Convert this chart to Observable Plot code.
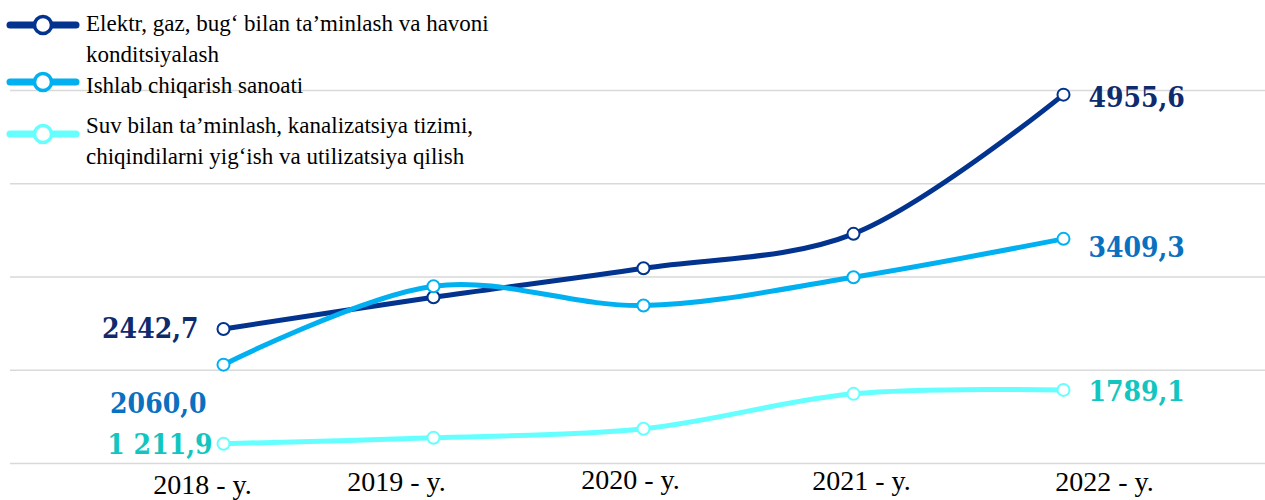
<!DOCTYPE html>
<html><head><meta charset="utf-8">
<script src="https://cdn.jsdelivr.net/npm/d3@7"></script>
<script src="https://cdn.jsdelivr.net/npm/@observablehq/plot@0.6"></script>
<style>
body{margin:0;background:#fff;}
#wrap{position:relative;width:1265px;height:500px;overflow:hidden;}
#wrap svg{position:absolute;left:0;top:0;}
</style></head><body><div id="wrap"></div>
<script>
// ---- data ----
const years = ["2018 - y.", "2019 - y.", "2020 - y.", "2021 - y.", "2022 - y."];
const seriesNames = [
  "Elektr, gaz, bug‘ bilan ta’minlash va havoni konditsiyalash",
  "Ishlab chiqarish sanoati",
  "Suv bilan ta’minlash, kanalizatsiya tizimi, chiqindilarni yig‘ish va utilizatsiya qilish"
];
const legendLines = [
  ["Elektr, gaz, bug‘ bilan ta’minlash va havoni", "konditsiyalash"],
  ["Ishlab chiqarish sanoati"],
  ["Suv bilan ta’minlash, kanalizatsiya tizimi,", "chiqindilarni yig‘ish va utilizatsiya qilish"]
];
const elektr = [2442.7, 2783, 3094, 3463, 4955.6];
const ishlab = [2060.0, 2901, 2694, 2998, 3409.3];
const suv    = [1211.9, 1276, 1372, 1747, 1789.1];
const startLabels = ["2442,7", "2060,0", "1 211,9"];
const endLabels   = ["4955,6", "3409,3", "1789,1"];
const yTicks = [1000, 2000, 3000, 4000, 5000];

// ---- styles ----
const lineColors  = ["#02338F", "#00B0F0", "#66FFFF"];
const labelColors = ["#0E2B6E", "#0A70C0", "#12C6BF"];
const startNudge = [{dx: -25, dy: 0}, {dx: -17, dy: 39}, {dx: -11, dy: 1}];
const endNudge   = [{dx: 25, dy: 3}, {dx: 25, dy: 9}, {dx: 25, dy: 2}];
const tickNudge  = [{dx: -21, dy: 8}, {dx: -37, dy: 5}, {dx: -13, dy: 3}, {dx: 8, dy: 4}, {dx: 41, dy: 5}];
const valueFont = "'DejaVu Serif Condensed','DejaVu Serif',serif";
const serif = "'Liberation Serif','Times New Roman',serif";

const valuesBySeries = [elektr, ishlab, suv];
const rows = valuesBySeries.flatMap((vals, s) =>
  vals.map((v, i) => ({series: seriesNames[s], s, i, year: years[i], value: v})));

const marks = [Plot.ruleY(yTicks, {stroke: "#d9d9d9", strokeWidth: 1.3})];
valuesBySeries.forEach((vals, s) => {
  const d = rows.filter(r => r.s === s);
  marks.push(Plot.line(d, {x: "year", y: "value", stroke: lineColors[s], strokeWidth: 5, curve: "catmull-rom"}));
  marks.push(Plot.dot(d, {x: "year", y: "value", r: 6, fill: "white", stroke: lineColors[s], strokeWidth: 2}));
});
valuesBySeries.forEach((vals, s) => {
  const d = rows.filter(r => r.s === s);
  marks.push(Plot.text([d[0]], {x: "year", y: "value", text: () => startLabels[s], textAnchor: "end",
    dx: startNudge[s].dx, dy: startNudge[s].dy, fill: labelColors[s], fontSize: 28, fontWeight: "bold", fontFamily: valueFont}));
  marks.push(Plot.text([d[d.length - 1]], {x: "year", y: "value", text: () => endLabels[s], textAnchor: "start",
    dx: endNudge[s].dx, dy: endNudge[s].dy, fill: labelColors[s], fontSize: 28, fontWeight: "bold", fontFamily: valueFont}));
});
years.forEach((yr, i) => {
  marks.push(Plot.axisX([yr], {tickSize: 0, tickPadding: 3, fontSize: 28, fontFamily: serif, fill: "#000",
    dx: tickNudge[i].dx, dy: tickNudge[i].dy, label: null}));
});

const chart = Plot.plot({
  width: 1265, height: 500,
  marginLeft: 10, marginRight: 0, marginTop: 90, marginBottom: 37,
  x: {type: "point", domain: years, range: [222, 1063], padding: 0},
  y: {domain: [1000, 5000], range: [463, 90], axis: null},
  style: {background: "transparent", overflow: "visible"},
  marks
});
d3.select(chart).selectAll("g[aria-label='text'] text").style("font-stretch", "condensed");
const wrap = document.getElementById("wrap");
wrap.appendChild(chart);

// ---- legend (overlaid, top-left) ----
const lg = d3.select(wrap).append("svg").attr("width", 620).attr("height", 180);
const baselines = [[31, 62], [93], [133, 164]];
const swatchY = [25, 82, 134];
legendLines.forEach((lines, s) => {
  const g = lg.append("g");
  g.append("line").attr("x1", 10).attr("x2", 76).attr("y1", swatchY[s]).attr("y2", swatchY[s])
    .attr("stroke", lineColors[s]).attr("stroke-width", 7).attr("stroke-linecap", "round");
  g.append("circle").attr("cx", 43).attr("cy", swatchY[s]).attr("r", 8.5)
    .attr("fill", "white").attr("stroke", lineColors[s]).attr("stroke-width", 3.5);
  lines.forEach((t, k) => {
    g.append("text").attr("x", 86).attr("y", baselines[s][k])
      .attr("font-family", serif).attr("font-size", 23).attr("fill", "#000").text(t);
  });
});
</script></body></html>
